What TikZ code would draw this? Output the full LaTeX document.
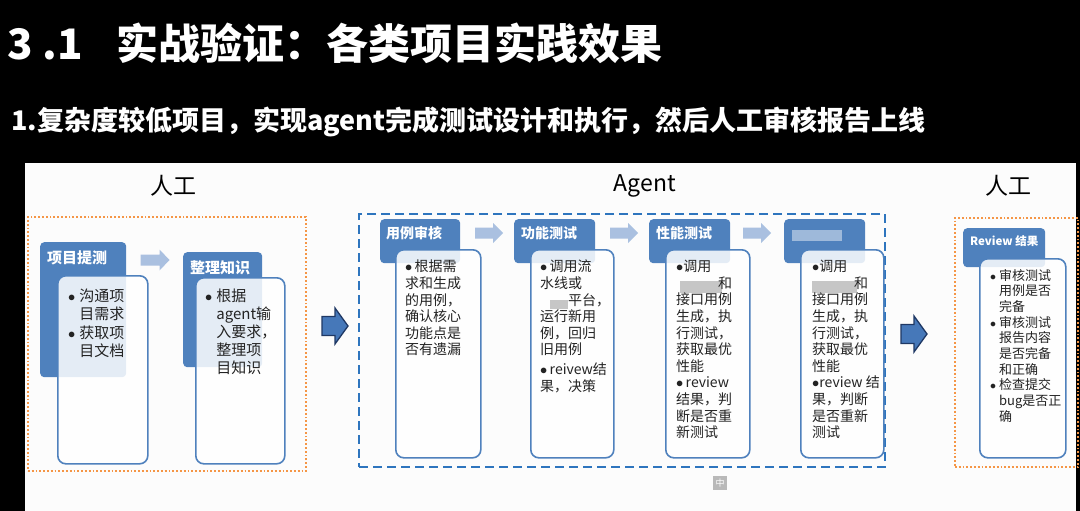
\documentclass[tikz,border=0pt]{standalone}
\usepackage{fontspec}
\setmainfont{Noto Sans CJK SC}
\usepackage{tikz}
\usetikzlibrary{positioning}

\definecolor{hdrblue}{RGB}{79,129,189}
\definecolor{lightarr}{RGB}{170,192,224}
\definecolor{dashblue}{RGB}{46,117,190}
\definecolor{dotorange}{RGB}{245,150,70}
\definecolor{arrline}{RGB}{31,56,100}
\definecolor{arrfill}{RGB}{70,120,185}
\definecolor{txtgray}{RGB}{35,35,35}

\newcommand{\bul}{$\bullet$}
% style, centre, length, shaft, head, head length
\newcommand{\blockarrow}[6]{%
	\path[#1, shift={(#2)}] ({-#3/2},{-#4/2}) -- ({#3/2-#6},{-#4/2}) -- ({#3/2-#6},{-#5/2}) -- ({#3/2},0)
		-- ({#3/2-#6},{#5/2}) -- ({#3/2-#6},{#4/2}) -- ({-#3/2},{#4/2}) -- cycle;}

\begin{document}
\begin{tikzpicture}[x=1pt,y=-1pt]
	\tikzstyle{hdr}=[rectangle, rounded corners=4pt, fill=hdrblue, anchor=north west, inner sep=0pt]
	\tikzstyle{hdrtext}=[anchor=west, text=white, inner sep=0pt, font=\bfseries\fontsize{14}{16}\selectfont]
	\tikzstyle{bodybox}=[rectangle, rounded corners=8pt, draw=hdrblue, line width=1.6pt, fill=white, fill opacity=0.85, anchor=north west, inner sep=0pt]
	\tikzstyle{bodytext}=[anchor=north west, align=left, inner sep=0pt, text=txtgray, font=\fontsize{14}{16.6}\selectfont]
	\tikzstyle{group}=[rectangle, anchor=north west, inner sep=0pt]
	\tikzstyle{stage}=[font=\fontsize{23}{26}\selectfont, text=black]
	\tikzstyle{step arrow}=[fill=lightarr]
	\tikzstyle{phase arrow}=[fill=arrfill, draw=arrline, line width=1.3pt, line join=miter]
	\tikzstyle{blur}=[fill=gray!45]

	\fill[black] (0,0) rectangle (1080,511);
	\useasboundingbox (0,0) rectangle (1080,511);
	\fill[white!98!gray] (25,163) rectangle (1076,511);

	\node[anchor=west, text=white, inner sep=0pt, font=\bfseries\fontsize{42}{46}\selectfont] (title) at (7,43) {3 .1\hspace{34pt}实战验证：各类项目实践效果};
	\node[anchor=west, text=white, inner sep=0pt, font=\bfseries\fontsize{27}{30}\selectfont] (subtitle) at (11,122) {1.复杂度较低项目，实现agent完成测试设计和执行，然后人工审核报告上线};

	\node[stage] (s1) at (173,186) {人工};
	\node[stage] (s2) at (645,186) {Agent};
	\node[stage] (s3) at (1008,186) {人工};

	\node[group, draw=dotorange, line width=1.8pt, dotted, minimum width=278pt, minimum height=254pt] (manual) at (27,216) {};
	\node[group, draw=dashblue, line width=2pt, dash pattern=on 9pt off 5pt, minimum width=526pt, minimum height=253pt] (agent) at (358,213) {};
	\node[group, draw=dotorange, line width=1.8pt, dotted, minimum width=123pt, minimum height=249pt] (review) at (954,217) {};

	\node[hdr, minimum width=86pt, minimum height=135pt] (h1) at (40,242) {};
	\node[hdr, minimum width=79pt, minimum height=115pt] (h2) at (183,252) {};
	\node[hdr, minimum width=80pt, minimum height=44pt] (h3) at (380,219) {};
	\node[hdr, minimum width=81pt, minimum height=44pt] (h4) at (514,219) {};
	\node[hdr, minimum width=81pt, minimum height=44pt] (h5) at (649,219) {};
	\node[hdr, minimum width=81pt, minimum height=44pt] (h6) at (784,219) {};
	\node[hdr, minimum width=82pt, minimum height=39pt] (h7) at (963,228) {};

	\node[hdrtext, font=\bfseries\fontsize{15}{17}\selectfont] (h1t) at (47,258) {项目提测};
	\node[hdrtext, font=\bfseries\fontsize{15}{17}\selectfont] (h2t) at (190,268) {整理知识};
	\node[hdrtext] (h3t) at (386,233) {用例审核};
	\node[hdrtext] (h4t) at (521,233) {功能测试};
	\node[hdrtext] (h5t) at (656,233) {性能测试};
	\node[hdrtext, font=\bfseries\fontsize{11.5}{14}\selectfont] (h7t) at (970,241) {Review 结果};
	\fill[white, opacity=0.45] (792,230) rectangle (842,241);

	\node[bodybox, minimum width=90pt, minimum height=188pt] (b1) at (57,275) {};
	\node[bodybox, minimum width=89pt, minimum height=186pt] (b2) at (195,277) {};
	\node[bodybox, minimum width=85pt, minimum height=208pt] (b3) at (395,249) {};
	\node[bodybox, minimum width=83pt, minimum height=208pt] (b4) at (530,249) {};
	\node[bodybox, minimum width=84pt, minimum height=208pt] (b5) at (665,249) {};
	\node[bodybox, minimum width=83pt, minimum height=208pt] (b6) at (800,249) {};
	\node[bodybox, minimum width=86pt, minimum height=199pt] (b7) at (979,258) {};

	\fill[blur] (550,300) rectangle (568,309);
	\fill[blur] (680,281) rectangle (722,293);
	\fill[blur] (812,281) rectangle (857,293);

	\node[bodytext, font=\fontsize{15}{18.5}\selectfont] (b1t) at (68,288) {\begin{tabular}{@{}l@{\hspace{4pt}}l@{}}
		\bul & 沟通项\\ & 目需求\\ \bul & 获取项\\ & 目文档
	\end{tabular}};
	\node[bodytext, font=\fontsize{15}{18}\selectfont] (b2t) at (205,289) {\begin{tabular}{@{}l@{\hspace{4pt}}l@{}}
		\bul & 根据\\ & agent输\\ & 入要求，\\ & 整理项\\ & 目知识
	\end{tabular}};
	\node[bodytext] (b3t) at (405,260) {\bul\,根据需\\求和生成\\的用例，\\确认核心\\功能点是\\否有遗漏};
	\node[bodytext] (b4t) at (540,260) {\bul\,调用流\\水线或\\\hspace*{2em}平台，\\运行新用\\例，回归\\旧用例\\[3pt]\bul\,reivew结\\果，决策};
	\node[bodytext] (b5t) at (676,260) {\bul 调用\\\hspace*{3em}和\\接口用例\\生成，执\\行测试，\\获取最优\\性能\\\bul\,review\\结果，判\\断是否重\\新测试};
	\node[bodytext] (b6t) at (812,260) {\bul 调用\\\hspace*{3em}和\\接口用例\\生成，执\\行测试，\\获取最优\\性能\\\bul review 结\\果，判断\\是否重新\\测试};
	\node[bodytext, font=\fontsize{13}{15.6}\selectfont] (b7t) at (990,269) {\begin{tabular}{@{}l@{\hspace{3pt}}l@{}}
		\bul & 审核测试\\ & 用例是否\\ & 完备\\ \bul & 审核测试\\ & 报告内容\\ & 是否完备\\ & 和正确\\ \bul & 检查提交\\ & bug是否正\\ & 确
	\end{tabular}};

	\coordinate (a1) at (155,260);
	\coordinate (a2) at (489,233);
	\coordinate (a3) at (624,233);
	\coordinate (a4) at (757,233);
	\blockarrow{step arrow}{a1}{29}{11}{21}{10}
	\blockarrow{step arrow}{a2}{28}{11}{20}{10}
	\blockarrow{step arrow}{a3}{28}{11}{20}{10}
	\blockarrow{step arrow}{a4}{28}{11}{20}{10}

	\coordinate (p1) at (335,326);
	\coordinate (p2) at (914,334);
	\blockarrow{phase arrow}{p1}{26}{19}{36}{13}
	\blockarrow{phase arrow}{p2}{26}{19}{36}{13}

	\node[fill=gray!55, text=white, minimum size=14pt, inner sep=0pt, font=\fontsize{9}{10}\selectfont] (zh) at (720,483) {中};
\end{tikzpicture}
\end{document}
